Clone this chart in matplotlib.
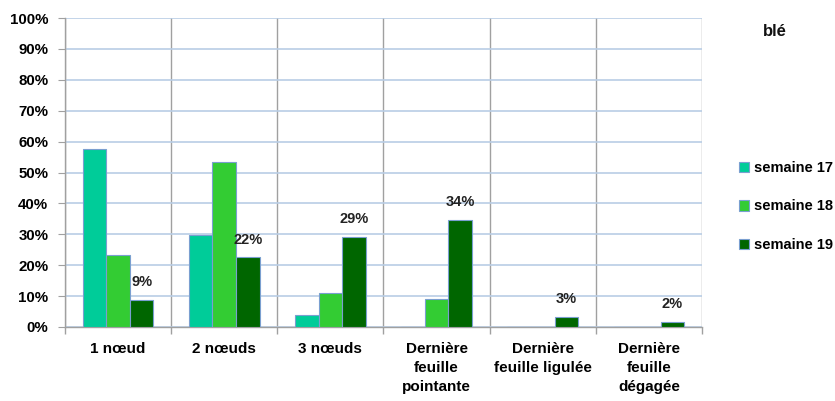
import matplotlib
matplotlib.use("Agg")
import matplotlib.pyplot as plt
import numpy as np
from matplotlib.ticker import FixedLocator, FuncFormatter

categories = ["1 nœud", "2 nœuds", "3 nœuds", "Dernière\nfeuille\npointante",
              "Dernière\nfeuille ligulée", "Dernière\nfeuille\ndégagée"]
series_names = ["semaine 17", "semaine 18", "semaine 19"]
s17 = [57.5, 29.8, 3.9, 0, 0, 0]
s18 = [23.3, 53.4, 11.0, 9.0, 0, 0]
s19 = [8.7, 22.5, 29.2, 34.5, 3.2, 1.7]
labels19 = ["9%", "22%", "29%", "34%", "3%", "2%"]
colors = ["#00CC99", "#33CC33", "#006600"]

plt.rcParams['font.family'] = ['Liberation Sans', 'DejaVu Sans']
fig = plt.figure(figsize=(8.35, 4.01), dpi=100)
ax = fig.add_axes([65/835, 1-327/401, (702-65)/835, (327-18)/401])

x = np.arange(len(categories))
w = 0.222
edge = "#7A9FD0"
for i, (vals, c) in enumerate(zip([s17, s18, s19], colors)):
    ax.bar(x + (i-1)*w, vals, width=w, color=c, edgecolor=edge, linewidth=0.8,
           label=series_names[i], zorder=3)

for xi, v, lab in zip(x, s19, labels19):
    ax.text(xi + w, v + 5.8, lab, ha="center", va="center", fontsize=10.5,
            fontweight="bold", color="#222222", zorder=4)

ax.set_xlim(-0.5, len(categories)-0.5)
ax.set_ylim(0, 100)
ax.set_yticks(np.arange(0, 101, 10))
ax.yaxis.set_major_formatter(FuncFormatter(lambda v, p: f"{int(v)}%"))
ax.yaxis.grid(True, color="#B9CDE5", linewidth=1.2, zorder=0)
ax.set_axisbelow(True)

ax.set_xticks(x)
ax.set_xticklabels(categories, fontsize=11, fontweight="bold", linespacing=1.42)
ax.tick_params(axis="x", which="major", length=0, pad=11)
ax.xaxis.set_minor_locator(FixedLocator(np.arange(-0.5, len(categories), 1.0)))
ax.tick_params(axis="x", which="minor", length=5, color="#A0A0A0", width=1)
ax.xaxis.grid(True, which="minor", color="#A0A0A0", linewidth=1, zorder=1)
ax.tick_params(axis="y", length=5, color="#A0A0A0", labelsize=10.8, pad=7)
for t in ax.get_yticklabels():
    t.set_fontweight("bold")

for s in ["top", "right"]:
    ax.spines[s].set_visible(False)
for s in ["left", "bottom"]:
    ax.spines[s].set_color("#A0A0A0")
    ax.spines[s].set_linewidth(1)

fig.text(775/835, 1-32/401, "blé", ha="center", va="center", fontsize=12,
         fontweight="bold", color="#111111")
leg = fig.legend(loc="upper left", bbox_to_anchor=(739/835, 1-161/401),
                 frameon=False, prop={"weight": "bold", "size": 10.5},
                 handlelength=0.7, handleheight=0.7, handletextpad=0.35,
                 labelspacing=1.68, borderpad=0, borderaxespad=0)

fig.savefig("out.png", dpi=100)
